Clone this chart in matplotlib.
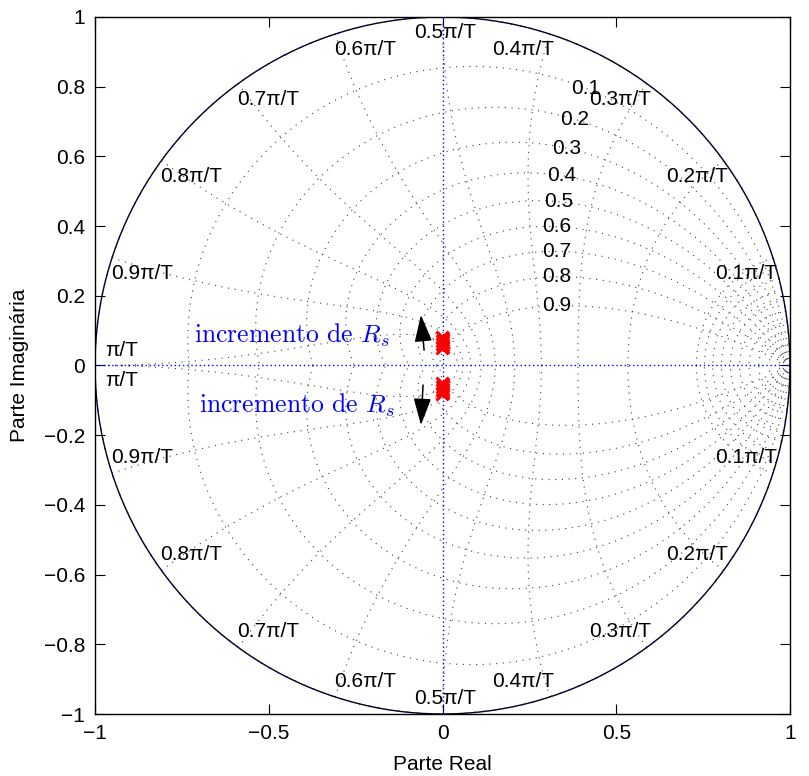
import numpy as np
import matplotlib.pyplot as plt

plt.rcParams['font.family'] = ['Liberation Sans', 'DejaVu Sans']
plt.rcParams['mathtext.fontset'] = 'cm'

# grid values: damping ratios and natural frequencies (multiples of pi/T)
zeta = [0.1, 0.2, 0.3, 0.4, 0.5, 0.6, 0.7, 0.8, 0.9]
zeta_labels = ['0.1', '0.2', '0.3', '0.4', '0.5', '0.6', '0.7', '0.8', '0.9']
wn = [0.1, 0.2, 0.3, 0.4, 0.5, 0.6, 0.7, 0.8, 0.9, 1.0]
wn_labels = ['0.1π/T', '0.2π/T', '0.3π/T', '0.4π/T', '0.5π/T',
             '0.6π/T', '0.7π/T', '0.8π/T', '0.9π/T', 'π/T']
wn_fine = [0.01, 0.02, 0.03, 0.04, 0.05, 0.06, 0.07, 0.08, 0.09]

# closed-loop poles while Rs grows (upper half, conjugates mirrored)
pole_re = [-0.002, 0.0, 0.002, -0.001, 0.001, -0.002, 0.0, 0.002, -0.001]
pole_im = [0.050, 0.054, 0.058, 0.062, 0.066, 0.070, 0.074, 0.078, 0.082]

xticks = [-1, -0.5, 0, 0.5, 1]
yticks = [-1, -0.8, -0.6, -0.4, -0.2, 0, 0.2, 0.4, 0.6, 0.8, 1]

FS = 15

fig = plt.figure(figsize=(8.09, 7.76), dpi=100)
ax = fig.add_axes([95 / 809, 62 / 776, 695 / 809, 697 / 776])

dot = dict(color='0.25', lw=0.8, ls=(0, (1, 5)))

# constant damping lines
wd = np.linspace(0, np.pi, 200)
for z in zeta:
    m = np.tan(np.arcsin(z))
    zz = np.exp(wd * (-m + 1j))
    ax.plot(zz.real, zz.imag, **dot)
    ax.plot(zz.real, -zz.imag, **dot)

# constant natural frequency lines
th = np.linspace(np.pi / 2, np.pi, 200)
for w in wn + wn_fine:
    zz = np.exp(w * np.pi * np.exp(1j * th))
    ax.plot(zz.real, zz.imag, **dot)
    ax.plot(zz.real, -zz.imag, **dot)

# unit circle and axes
t = np.linspace(0, 2 * np.pi, 400)
ax.plot(np.cos(t), np.sin(t), color='k', lw=1.0)
ax.plot(np.cos(t), np.sin(t), color='b', lw=1.0, ls=(0, (1, 6)))
ax.plot([-1, 1], [0, 0], color='b', lw=1.0, ls=(0, (1, 2)))
ax.plot([0, 0], [-1, 1], color='b', lw=1.0, ls=(0, (1, 2)))

# damping labels along wn = 0.35 pi
for z, lab in zip(zeta, zeta_labels):
    s = 0.35 * np.pi * (-z + 1j * np.sqrt(1 - z ** 2))
    p = np.exp(s)
    ax.text(p.real, p.imag, lab, fontsize=FS, ha='center', va='center')

# natural frequency labels hanging just inside the unit circle
for w, lab in zip(wn, wn_labels):
    a = w * np.pi
    y = np.sin(a) - 0.045
    if w < 0.5:
        x, ha = np.cos(a) + 0.012, 'right'
    elif w == 0.5:
        x, ha = 0.007, 'center'
    elif w < 1.0:
        x, ha = np.cos(a) - 0.003, 'left'
    else:
        x, y, ha = -0.971, 0.042, 'left'
    ax.text(x, y, lab, fontsize=FS, ha=ha, va='center')
    ax.text(x, -y, lab, fontsize=FS, ha=ha, va='center')

# poles
pr = np.array(pole_re)
pi_ = np.array(pole_im)
ax.plot(pr, pi_, 'x', color='r', ms=8, mew=2)
ax.plot(pr, -pi_, 'x', color='r', ms=8, mew=2)

# direction arrows and annotations
arr = dict(arrowstyle='-|>,head_width=0.32,head_length=0.98', color='k',
           lw=1.1, mutation_scale=17, shrinkA=0, shrinkB=0)
ax.annotate('', xy=(-0.062, 0.145), xytext=(-0.053, 0.044), arrowprops=arr)
ax.annotate('', xy=(-0.062, -0.171), xytext=(-0.056, -0.056), arrowprops=arr)
ax.text(-0.433, 0.088, 'incremento de $R_s$', color='b', fontsize=18.5,
        family='cmr10', ha='center', va='center')
ax.text(-0.42, -0.113, 'incremento de $R_s$', color='b', fontsize=18.5,
        family='cmr10', ha='center', va='center')

ax.set_xlim(-1, 1)
ax.set_ylim(-1, 1)
ax.set_xticks(xticks)
ax.set_xticklabels([f'{v:g}'.replace('-', '\u2212') for v in xticks])
ax.set_yticks(yticks)
ax.set_yticklabels([f'{v:g}'.replace('-', '\u2212') for v in yticks])
ax.tick_params(direction='in', top=True, right=True, length=7,
               labelsize=FS, pad=7)
ax.set_xlabel('Parte Real', fontsize=FS, labelpad=9)
ax.set_ylabel('Parte Imaginária', fontsize=FS, labelpad=11)
for sp in ax.spines.values():
    sp.set_linewidth(1.0)

fig.savefig('out.png', dpi=100)
